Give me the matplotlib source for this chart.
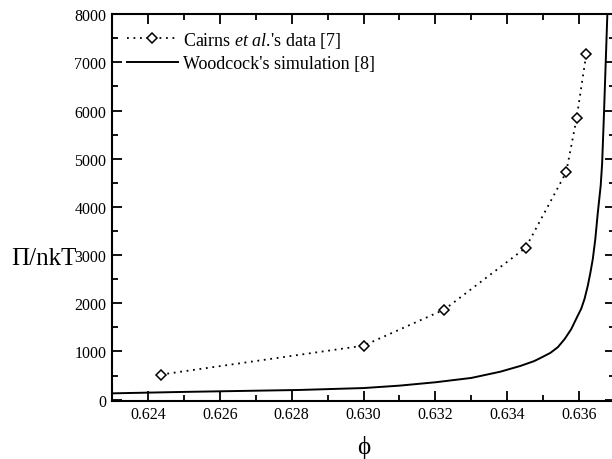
import matplotlib
matplotlib.use("Agg")
import matplotlib.pyplot as plt
from matplotlib.ticker import MultipleLocator

plt.rcParams['font.family'] = ['Liberation Serif', 'DejaVu Serif']
plt.rcParams['mathtext.fontset'] = 'custom'
plt.rcParams['mathtext.it'] = 'Liberation Serif:italic'
plt.rcParams['mathtext.rm'] = 'Liberation Serif'

# Cairns et al. experimental data
cairns_phi = [0.62436, 0.63000, 0.63225, 0.63451, 0.63564, 0.63593, 0.63620]
cairns_p = [520, 1120, 1870, 3150, 4720, 5840, 7180]

# Woodcock simulation curve
wood_phi = [0.6230, 0.6250, 0.6270, 0.6282, 0.6300, 0.6310, 0.6320, 0.6330,
            0.63381, 0.63437, 0.63475, 0.63494, 0.63520, 0.63541, 0.63560,
            0.63578, 0.63596, 0.63606, 0.63615, 0.63624, 0.63631, 0.63638,
            0.63645, 0.63652, 0.63660, 0.63664, 0.63669, 0.63674, 0.63679,
            0.63684]
wood_p = [130, 160, 185, 200, 240, 290, 360, 450,
          580, 700, 800, 870, 970, 1090, 1260,
          1463, 1740, 1890, 2090, 2360, 2620, 2915,
          3330, 3880, 4440, 4900, 5900, 7000, 8100,
          9000]

x_ticks = [0.624, 0.626, 0.628, 0.630, 0.632, 0.634, 0.636]
x_tick_labels = ["0.624", "0.626", "0.628", "0.630", "0.632", "0.634", "0.636"]
y_ticks = [0, 1000, 2000, 3000, 4000, 5000, 6000, 7000, 8000]

fig = plt.figure(figsize=(6.12, 4.6), dpi=100)
ax = fig.add_axes([0.183, 0.127, 0.822, 0.840])

ax.plot(cairns_phi, cairns_p, linestyle=(0, (1, 2.6)), linewidth=1.3, color='black',
        marker='D', markersize=5.5, markerfacecolor='white', markeredgecolor='black',
        markeredgewidth=1.1, label="Cairns $\\mathit{et\\ al.}\\!$'s data [7]")
ax.plot(wood_phi, wood_p, linestyle='-', linewidth=1.4, color='black',
        label="Woodcock's simulation [8]")

ax.set_xlim(0.623, 0.637)
ax.set_ylim(-20, 8000)
ax.set_xticks(x_ticks)
ax.set_xticklabels(x_tick_labels)
ax.set_yticks(y_ticks)
ax.xaxis.set_minor_locator(MultipleLocator(0.001))
ax.yaxis.set_minor_locator(MultipleLocator(500))

ax.tick_params(which='both', direction='in', top=True, right=True, labelsize=11.5,
               width=1.3, pad=4)
ax.tick_params(which='major', length=7)
ax.tick_params(which='minor', length=4)
for s in ax.spines.values():
    s.set_linewidth(1.5)

ax.set_xlabel("ϕ", fontsize=18, labelpad=9)
ax.set_ylabel("Π/nkT", fontsize=18, rotation=0, labelpad=0)
ax.yaxis.set_label_coords(-0.135, 0.34)

leg = ax.legend(loc='upper left', bbox_to_anchor=(0.005, 0.993), frameon=False,
                fontsize=13, handlelength=2.8, handletextpad=0.3, labelspacing=0.3,
                borderaxespad=0.3)

fig.savefig("out.png", dpi=100)
